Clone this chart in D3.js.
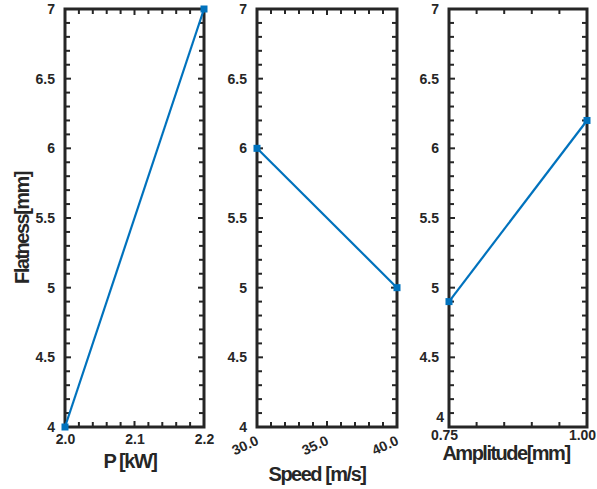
<!DOCTYPE html>
<html>
<head>
    <script src="https://cdnjs.cloudflare.com/ajax/libs/d3/7.8.5/d3.min.js"></script>
    <style>
        body { margin: 0; background: #fff; }
    </style>
</head>

<body>
<div id="chart"></div>

<script>

    // y axis shared by all three panels
    var yTicks = [4, 4.5, 5, 5.5, 6, 6.5, 7];
    var yLabel = 'Flatness[mm]';

    // panel 1: P [kW]
    var powerX = [2.0, 2.2];
    var powerY = [4, 7];
    var powerTicks = ['2.0', '2.1', '2.2'];

    // panel 2: Speed [m/s]
    var speedX = [30, 40];
    var speedY = [6, 5];
    var speedTicks = ['30.0', '35.0', '40.0'];

    // panel 3: Amplitude[mm]
    var ampX = [0.75, 1.00];
    var ampY = [4.9, 6.2];
    var ampTicks = ['0.75', '1.00'];

    var width = 597, height = 489;
    var plotTop = 9, plotBottom = 427;
    var ink = '#262626', blue = '#0072BD';
    var font = '"Liberation Sans", Arial, sans-serif';

    var panels = [
        { left: 65, right: 204, xs: powerX, ys: powerY, ticks: powerTicks, minor: 0.02, title: 'P [kW]', tx: 130, ty: 468, rotate: false },
        { left: 257, right: 397, xs: speedX, ys: speedY, ticks: speedTicks, minor: 1, title: 'Speed [m/s]', tx: 317, ty: 481, rotate: true },
        { left: 449, right: 587, xs: ampX, ys: ampY, ticks: ampTicks, minor: 0.05, title: 'Amplitude[mm]', tx: 506, ty: 460, rotate: false }
    ];

    var svg = d3.select('#chart').append('svg')
        .attr('width', width)
        .attr('height', height);

    var yScale = d3.scaleLinear().domain([4, 7]).range([plotBottom, plotTop]);
    var yMinor = d3.range(4, 7.001, 0.1).map(function(d) { return +d.toFixed(1); });

    function labelStyle(sel, size) {
        sel.attr('fill', ink)
            .style('font-family', font)
            .style('font-weight', 'bold')
            .style('font-size', size + 'px');
    }

    panels.forEach(function(p, k) {
        var lo = +p.ticks[0], hi = +p.ticks[p.ticks.length - 1];
        var xScale = d3.scaleLinear().domain([lo, hi]).range([p.left, p.right]);
        var xMajor = p.ticks.map(Number);
        var xMinor = d3.range(lo, hi + p.minor / 2, p.minor).map(function(d) { return +d.toFixed(3); });

        var g = svg.append('g');

        // inward tick marks on all four sides, drawn as small filled bars
        var tickBars = [];
        yMinor.forEach(function(v) {
            var len = yTicks.indexOf(v) >= 0 ? 6 : 5;
            var y = yScale(v);
            tickBars.push({ x: p.left, y: y - 1, w: len, h: 2 });
            tickBars.push({ x: p.right - len, y: y - 1, w: len, h: 2 });
        });
        xMinor.forEach(function(v) {
            var len = xMajor.some(function(m) { return Math.abs(m - v) < 1e-6; }) ? 6 : 5;
            var x = xScale(v);
            tickBars.push({ x: x - 1, y: plotBottom - len, w: 2, h: len });
            tickBars.push({ x: x - 1, y: plotTop, w: 2, h: len });
        });
        g.selectAll('rect.tk').data(tickBars).enter().append('rect')
            .attr('class', 'tk')
            .attr('x', function(d) { return d.x; })
            .attr('y', function(d) { return d.y; })
            .attr('width', function(d) { return d.w; })
            .attr('height', function(d) { return d.h; })
            .attr('fill', ink);

        // tick labels
        var yAx = g.append('g').attr('transform', 'translate(' + p.left + ',0)')
            .call(d3.axisLeft(yScale).tickValues(yTicks).tickSize(0).tickPadding(10)
                .tickFormat(function(d) { return String(d); }));
        yAx.select('.domain').remove();
        yAx.selectAll('.tick line').remove();
        yAx.selectAll('.tick text').call(labelStyle, 14);
        if (k === 2) {
            yAx.selectAll('.tick text').filter(function(d) { return d === 4; })
                .attr('dy', '-0.4em').attr('x', -5);
        }

        var xAx = g.append('g').attr('transform', 'translate(0,' + plotBottom + ')')
            .call(d3.axisBottom(xScale).tickValues(xMajor).tickSize(0).tickPadding(7)
                .tickFormat(function(d, i) { return p.ticks[i]; }));
        xAx.select('.domain').remove();
        xAx.selectAll('.tick line').remove();
        xAx.selectAll('.tick text').call(labelStyle, 14);

        if (p.rotate) {
            xAx.selectAll('.tick text')
                .attr('text-anchor', 'end')
                .attr('dy', 0)
                .attr('y', 0)
                .attr('transform', 'translate(2,17) rotate(-25)');
        } else if (k === 2) {
            xAx.selectAll('.tick text').attr('x', -5).attr('y', 3);
        }

        // box
        g.append('rect')
            .attr('x', p.left).attr('y', plotTop)
            .attr('width', p.right - p.left).attr('height', plotBottom - plotTop)
            .attr('fill', 'none').attr('stroke', ink).attr('stroke-width', 3);

        var pts = p.xs.map(function(x, i) { return [x, p.ys[i]]; });

        var pen = d3.line()
            .x(function(d) { return xScale(d[0]); })
            .y(function(d) { return yScale(d[1]); });

        g.append('path').datum(pts)
            .attr('fill', 'none').attr('stroke', blue).attr('stroke-width', 2.2)
            .attr('d', pen);

        g.selectAll('rect.pt').data(pts).enter().append('rect')
            .attr('class', 'pt')
            .attr('x', function(d) { return xScale(d[0]) - 3.5; })
            .attr('y', function(d) { return yScale(d[1]) - 3.5; })
            .attr('width', 7).attr('height', 7)
            .attr('fill', blue);

        g.append('text')
            .attr('x', p.tx).attr('y', p.ty)
            .attr('text-anchor', 'middle')
            .call(labelStyle, 20)
            .style('letter-spacing', '-1.5px')
            .text(p.title);
    });

    svg.append('text')
        .attr('transform', 'translate(29,228) rotate(-90)')
        .attr('text-anchor', 'middle')
        .call(labelStyle, 20)
        .style('letter-spacing', '-1.5px')
        .text(yLabel);

</script>
</body>
</html>
